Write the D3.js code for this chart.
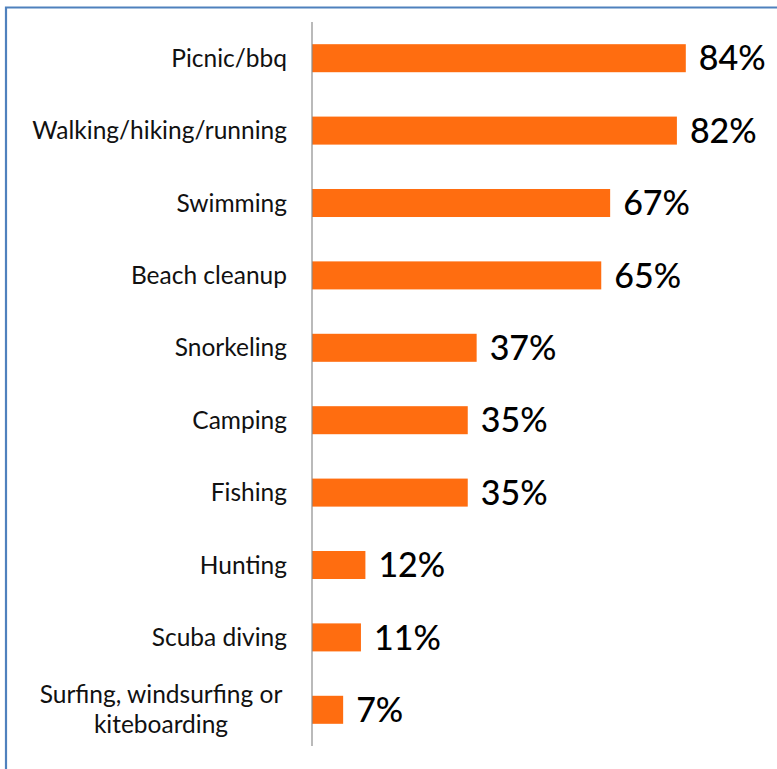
<!DOCTYPE html>
<html><head><meta charset="utf-8">
<script src="https://cdn.jsdelivr.net/npm/d3@7"></script>
<style>body{margin:0;background:#fff;}svg{display:block;}</style>
</head><body>
<script>
const categories = ["Picnic/bbq","Walking/hiking/running","Swimming","Beach cleanup","Snorkeling","Camping","Fishing","Hunting","Scuba diving","Surfing, windsurfing or\nkiteboarding"];
const values = [84,82,67,65,37,35,35,12,11,7];
const valueLabels = ["84%","82%","67%","65%","37%","35%","35%","12%","11%","7%"];

const W = 777, H = 769;
const svg = d3.select("body").append("svg").attr("width", W).attr("height", H);
svg.append("rect").attr("width", W).attr("height", H).attr("fill", "#fff");
// frame (top and left edges visible)
svg.append("path").attr("d", `M6,${H} L6,7.5 L${W},7.5`).attr("fill","none").attr("stroke","#4f81bd").attr("stroke-width",2.2);

const x = d3.scaleLinear().domain([0,100]).range([312, 757]);
const y = d3.scaleBand().domain(categories).range([22, 746]).paddingInner(0.613).paddingOuter(0.3065);

svg.append("g").selectAll("rect").data(categories).join("rect")
  .attr("x", x(0)).attr("y", d => y(d)).attr("width", (d,i) => x(values[i]) - x(0))
  .attr("height", y.bandwidth()).attr("fill", "#ff6d10");

svg.append("line").attr("x1", x(0)).attr("x2", x(0)).attr("y1", 22).attr("y2", 746)
  .attr("stroke", "#8c8c8c").attr("stroke-width", 1.2);

const font = "Lato, 'Open Sans', sans-serif";
const lab = svg.append("g").attr("font-family", font).attr("font-size", 24.5).attr("fill", "#111");
categories.forEach((c, i) => {
  const lines = c.split("\n");
  const cy = y(c) + y.bandwidth()/2;
  if (lines.length === 1) {
    lab.append("text").attr("x", 287).attr("y", cy).attr("dy", "0.35em").attr("text-anchor","end").text(c);
  } else {
    const t = lab.append("text").attr("text-anchor","middle");
    lines.forEach((l, j) => {
      t.append("tspan").attr("x", 161).attr("y", cy + (j - (lines.length-1)/2) * 30).attr("dy","0.35em").text(l);
    });
  }
});

svg.append("g").attr("font-family", font).attr("font-size", 34).attr("font-weight", 500).attr("fill", "#000")
  .selectAll("text").data(categories).join("text")
  .attr("x", (d,i) => x(values[i]) + 13).attr("y", d => y(d) + y.bandwidth()/2).attr("dy","0.36em")
  .text((d,i) => valueLabels[i]);
</script>
</body></html>
